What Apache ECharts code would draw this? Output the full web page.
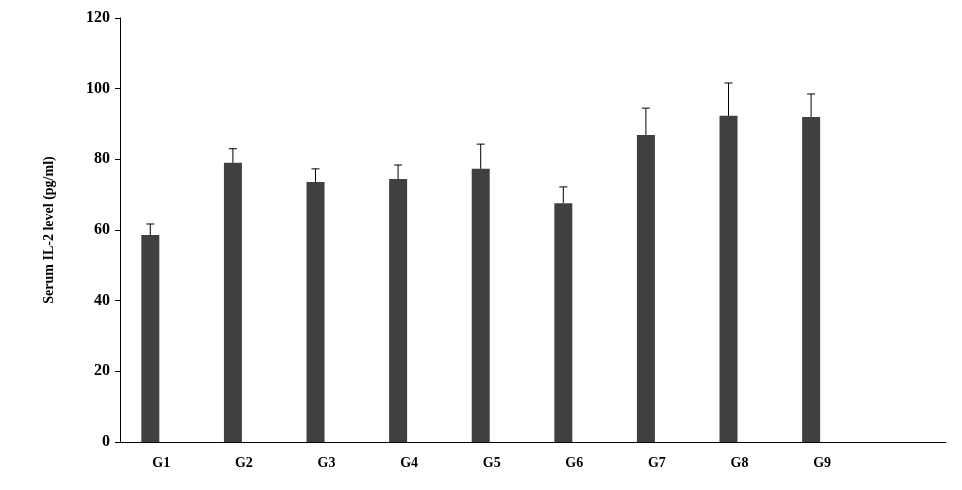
<!DOCTYPE html>
<html><head><meta charset="utf-8">
<script src="https://cdn.jsdelivr.net/npm/echarts@6/dist/echarts.min.js"></script>
<style>html,body{margin:0;background:#fff}#c{width:962px;height:490px}</style>
</head><body><div id="c"></div>
<script>
var categories = ['G1','G2','G3','G4','G5','G6','G7','G8','G9',''];
var means = [58.6, 79.0, 73.6, 74.4, 77.3, 67.6, 86.9, 92.3, 92.0, null];
var errTops = [61.7, 83.0, 77.3, 78.4, 84.3, 72.2, 94.5, 101.6, 98.5, null];
var yTicks = [0, 20, 40, 60, 80, 100, 120];
var font = '"Liberation Serif","Times New Roman",serif';
var chart = echarts.init(document.getElementById('c'));
chart.setOption({
  animation:false,
  grid:{left:120,right:16,top:18,bottom:48},
  xAxis:{type:'category',data:categories,
    axisLine:{lineStyle:{color:'#000'}},axisTick:{show:false},
    axisLabel:{color:'#000',fontFamily:font,fontWeight:'bold',fontSize:14,margin:14}},
  yAxis:{type:'value',min:0,max:120,interval:20,
    name:'Serum IL-2 level (pg/ml)',nameLocation:'middle',nameGap:64,
    nameTextStyle:{color:'#000',fontFamily:font,fontWeight:'bold',fontSize:14},
    axisLine:{show:true,lineStyle:{color:'#000'}},axisTick:{show:true,length:5,lineStyle:{color:'#000'}},
    splitLine:{show:false},
    axisLabel:{color:'#000',fontFamily:font,fontWeight:'bold',fontSize:16,margin:10,
      formatter:function(v){return yTicks.indexOf(v)>=0?String(v):'';}}},
  series:[
    {type:'bar',data:means,barWidth:18,barGap:'22%',itemStyle:{color:'#404040'}},
    {type:'bar',data:means.map(function(){return null;}),barWidth:18},
    {type:'custom',data:errTops.map(function(v,i){return [i,means[i],v];}),z:5,
      renderItem:function(params,api){
        if(api.value(2)==null||isNaN(api.value(2)))return;
        var b=api.coord([api.value(0),api.value(1)]);
        var t=api.coord([api.value(0),api.value(2)]);
        var x=b[0]-11;
        var st={stroke:'#000',lineWidth:1};
        return {type:'group',children:[
          {type:'line',shape:{x1:x,y1:b[1],x2:x,y2:t[1]},style:st},
          {type:'line',shape:{x1:x-4,y1:t[1],x2:x+4,y2:t[1]},style:st}]};
      }}
  ]
});
</script></body></html>
